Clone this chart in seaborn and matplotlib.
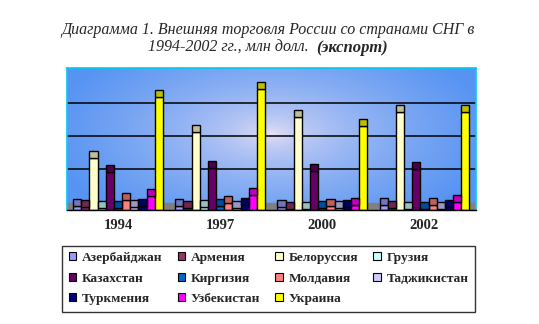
import numpy as np
import pandas as pd
import matplotlib
matplotlib.use("Agg")
import matplotlib.pyplot as plt
import seaborn as sns
from matplotlib.patches import Rectangle, Patch

years = ["1994", "1997", "2000", "2002"]
countries = ["Азербайджан", "Армения", "Белоруссия", "Грузия", "Казахстан",
             "Киргизия", "Молдавия", "Таджикистан", "Туркмения", "Узбекистан", "Украина"]
azerbaijan = [200, 220, 160, 260]
armenia = [140, 80, 40, 100]
belarus = [3120, 4660, 5540, 5840]
georgia = [100, 160, 40, 60]
kazakhstan = [2250, 2520, 2340, 2460]
kyrgyzstan = [100, 220, 100, 60]
moldova = [560, 400, 220, 260]
tajikistan = [160, 80, 100, 60]
turkmenistan = [200, 300, 160, 160]
uzbekistan = [840, 880, 300, 440]
ukraine = [6740, 7260, 5000, 5840]
colors = ["#9999ff", "#993366", "#ffffcc", "#ccffff", "#660066", "#0066cc",
          "#ff8080", "#ccccff", "#000080", "#ff00ff", "#ffff00"]

series = [azerbaijan, armenia, belarus, georgia, kazakhstan, kyrgyzstan,
          moldova, tajikistan, turkmenistan, uzbekistan, ukraine]
rows = []
for c, vals in zip(countries, series):
    for y, v in zip(years, vals):
        rows.append({"year": y, "country": c, "value": v})
df = pd.DataFrame(rows)

sns.set_style("white")
plt.rcParams['font.family'] = ['Liberation Serif', 'DejaVu Serif']

W, H = 539, 324
fig = plt.figure(figsize=(W / 100, H / 100), dpi=100)
fig.patch.set_facecolor("white")
ax = fig.add_axes([67 / W, 1 - 209.5 / H, (475.5 - 67) / W, (209.5 - 68) / H])

depth = 420  # 3D cap offset in data units
ymax = 8490

# background gradient
nx, ny = 300, 200
xx, yy = np.meshgrid(np.linspace(0, 1, nx), np.linspace(0, 1, ny))
d = np.sqrt(((xx - 0.5) / 0.55) ** 2 + ((yy - 0.47) / 0.75) ** 2)
t = np.clip(d, 0, 1) ** 0.55
c0 = np.array([0.95, 0.90, 0.96])
c1 = np.array([0.34, 0.58, 0.95])
img = c0[None, None, :] * (1 - t[..., None]) + c1[None, None, :] * t[..., None]
ax.imshow(img, extent=[-0.5, 3.5, 0, ymax], aspect="auto", zorder=0, origin="upper")

ax.axhspan(0, depth, color="#808080", zorder=0.5)
for g in [2000, 4000, 6000]:
    ax.axhline(g + depth, color="black", lw=1.1, zorder=0.6)

sns.barplot(data=df, x="year", y="value", hue="country", order=years,
            hue_order=countries, palette=colors, width=0.88, gap=0,
            edgecolor="black", linewidth=1.0, saturation=1, ax=ax, zorder=2,
            legend=False)

for cont in ax.containers:
    for p in cont.patches:
        fc = np.array(p.get_facecolor()[:3])
        ax.add_patch(Rectangle((p.get_x(), p.get_height()), p.get_width(), depth,
                               facecolor=fc * 0.75, edgecolor="black", lw=1.0, zorder=2))

ax.set_xlim(-0.5, 3.5)
ax.set_ylim(0, ymax)
ax.set_xlabel("")
ax.set_ylabel("")
ax.set_yticks([])
ax.set_xticks(range(4))
ax.set_xticklabels(years, fontsize=10.5, fontweight="bold")
ax.tick_params(axis="x", which="major", length=0, pad=7)
ax.set_xticks([-0.5, 0.5, 1.5, 2.5, 3.5], minor=True)
ax.tick_params(axis="x", which="minor", length=4, width=1, color="black")
for s in ["left", "top", "right"]:
    ax.spines[s].set_color("#00ccee")
    ax.spines[s].set_linewidth(1.2)
ax.spines["bottom"].set_color("black")
ax.spines["bottom"].set_linewidth(1.0)

# legend (row-major order via column filling)
handles = [Patch(facecolor=c, edgecolor="black", lw=0.8) for c in colors]
order = [0, 4, 8, 1, 5, 9, 2, 6, 10, 3, 7]
leg = fig.legend([handles[i] for i in order], [countries[i] for i in order],
                 ncol=4, loc="upper left", bbox_to_anchor=(62 / W, 1 - 245.5 / H),
                 frameon=True, fancybox=False, edgecolor="black",
                 prop={"family": "Liberation Serif", "weight": "bold", "size": 9.6},
                 handlelength=0.55, handleheight=0.55, handletextpad=0.45,
                 columnspacing=1.13, labelspacing=0.63, borderpad=0.5,
                 borderaxespad=0)
leg.get_frame().set_linewidth(1.0)

# title
fig.text(0.497, 1 - 30 / H, "Диаграмма 1. Внешняя торговля России со странами СНГ в",
         ha="center", va="center", fontsize=11.5, style="italic")
t1 = fig.text(0, 1 - 48 / H, "1994-2002 гг., млн долл.  ", ha="left", va="center",
              fontsize=11.5, style="italic")
t2 = fig.text(0, 1 - 48 / H, "(экспорт)", ha="left", va="center",
              fontsize=12, style="italic", weight="bold")
fig.canvas.draw()
r = fig.canvas.get_renderer()
w1 = t1.get_window_extent(r).width
w2 = t2.get_window_extent(r).width
x0 = (268 - (w1 + w2) / 2)
t1.set_x(x0 / W)
t2.set_x((x0 + w1) / W)

fig.savefig("out.png", dpi=100)
